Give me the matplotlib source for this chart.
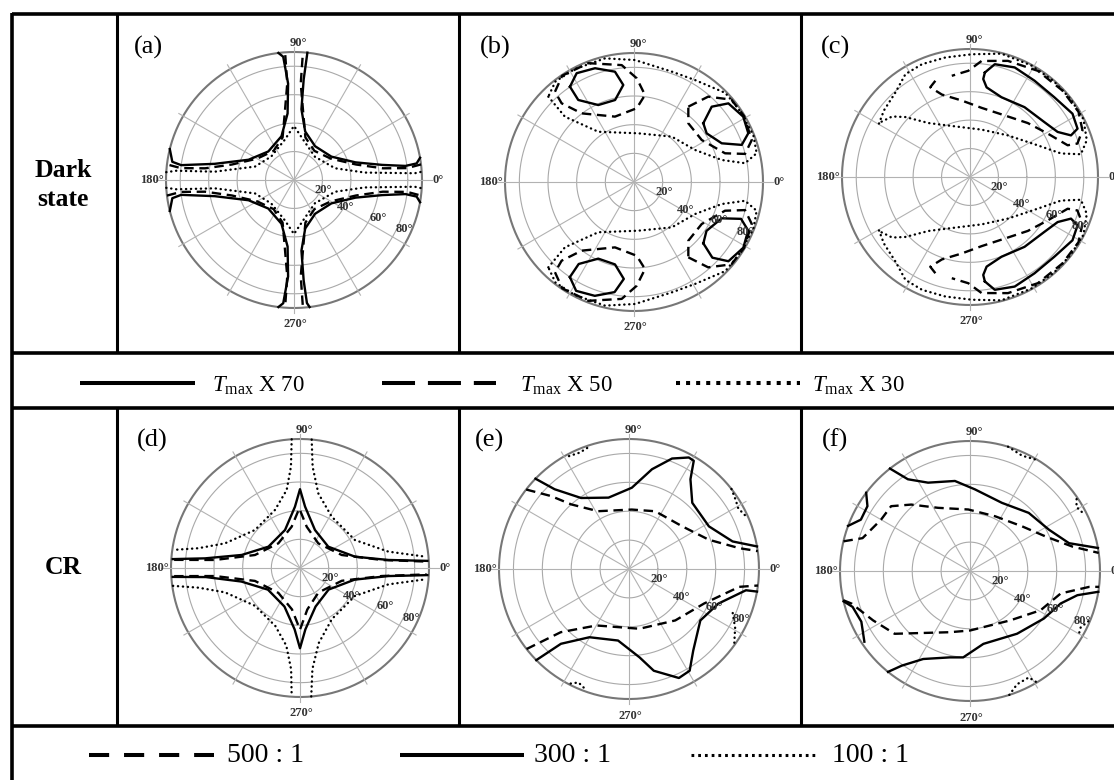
import numpy as np
import matplotlib.pyplot as plt

plt.rcParams['font.family'] = 'Liberation Serif'
plt.rcParams['mathtext.fontset'] = 'custom'
plt.rcParams['mathtext.rm'] = 'Liberation Serif'
plt.rcParams['mathtext.it'] = 'Liberation Serif:italic'

# iso-transmittance contours, each branch is a list of (azimuth deg, polar angle deg)
a_solid = [
    [(97, 90), (95, 87), (93.5, 68), (95.5, 47), (106, 32), (132, 27), (156, 35), (168.5, 57), (172.5, 80), (171.5, 86.5), (166, 90)],
    [(10, 90), (7.7, 87), (7.2, 79), (9.7, 63), (16, 45), (32, 31), (58, 28), (77, 35), (84, 50), (84.5, 71), (84, 90)],
    [(194, 90), (188.5, 86.5), (187.5, 80), (191.5, 57), (204, 35), (228, 27), (254, 32), (264.5, 47), (266.5, 68), (265, 87), (263, 90)],
    [(277, 90), (276, 87), (275.5, 71), (276, 50), (283, 35), (302, 28), (328, 31), (344, 45), (350.3, 63), (352.8, 79), (352.3, 87), (350, 90)],
]
a_dashed = [
    [(7, 90), (6, 80), (7.5, 63), (14, 45), (30, 30), (55, 25), (75, 31), (82, 47), (86, 68), (86, 88)],
    [(94, 88), (94, 68), (98, 47), (105, 31), (125, 25), (150, 30), (166, 45), (172.5, 63), (174, 80), (173, 90)],
    [(187, 90), (186, 80), (187.5, 63), (194, 45), (210, 30), (235, 25), (255, 31), (262, 47), (266, 68), (266, 88)],
    [(274, 88), (274, 68), (278, 47), (285, 31), (305, 25), (330, 30), (346, 45), (352.5, 63), (354, 80), (353, 90)],
]
a_dotted = [
    [(176.5, 90), (175.5, 83), (174, 56), (161, 29), (134, 23), (103, 29), (90, 38), (77, 29), (48, 22), (16, 30), (6, 50), (3.2, 85), (3.7, 90)],
    [(183.5, 90), (184.5, 83), (186, 56), (199, 29), (226, 23), (257, 29), (270, 38), (283, 29), (312, 22), (344, 30), (354, 50), (356.8, 85), (356.3, 90)],
]

b_solid = [
    [(123.9, 80.1), (117.8, 85.8), (108.9, 83.9), (99.8, 78.1), (96.3, 68.1), (103, 58.7), (114.9, 59.2), (124.2, 69.2), (123.9, 80.1)],
    [(40.3, 63.4), (44.1, 75.5), (39.8, 85.7), (30.9, 88.8), (23.1, 86.7), (19, 79.5), (23.8, 66.9), (33.8, 61), (40.3, 63.4)],
    [(236, 80), (242, 86), (251, 84), (260, 78), (264, 68), (257, 59), (245, 59), (236, 69), (236, 80)],
    [(318.5, 64.6), (316, 76), (320, 86), (329, 89), (337, 86.5), (341, 79), (337.5, 66.2), (326, 61), (318.5, 64.6)],
]
b_dashed = [
    [(131.2, 83.7), (124, 89.5), (111, 88.8), (96, 82), (88.5, 72.4), (82.8, 61.2), (87.9, 51.5), (106.2, 47.5), (127.3, 60.2), (132.6, 74.6), (131.2, 83.7)],
    [(54.2, 64.8), (49, 78.9), (40.2, 89), (30.9, 89.5), (19.6, 87.2), (14.2, 79.9), (17.5, 66.6), (31.8, 55.6), (47.2, 55.8), (54.2, 64.8)],
    [(228.8, 83.7), (236, 89.5), (249, 88.8), (264, 82), (271.5, 72.4), (277.2, 61.2), (272.1, 51.5), (253.8, 47.5), (232.7, 60.2), (227.4, 74.6), (228.8, 83.7)],
    [(305.8, 64.8), (311, 78.9), (319.8, 89), (329.1, 89.5), (340.4, 87.2), (345.8, 79.9), (342.5, 66.6), (328.2, 55.6), (312.8, 55.8), (305.8, 64.8)],
]
b_dotted = [
    [(135.1, 84.4), (136.6, 66.3), (125.4, 43), (85, 34.1), (50.2, 41.2), (27.7, 48.1), (14.1, 63.1), (9.6, 78.6), (13.2, 87.9),
     (21.6, 89.5), (35, 89), (44.3, 89), (59.1, 82.9), (71.1, 81.4), (89.5, 85.1), (103.2, 88.6), (117.7, 89), (128, 89), (135.1, 84.4)],
    [(224.9, 84.4), (223.4, 66.3), (234.6, 43), (275, 34.1), (309.8, 41.2), (332.3, 48.1), (345.9, 63.1), (350.4, 78.6), (346.8, 87.9),
     (338.4, 89.5), (325, 89), (315.7, 89), (300.9, 82.9), (288.9, 81.4), (270.5, 85.1), (256.8, 88.6), (242.3, 89), (232, 89), (224.9, 84.4)],
]

c_solid = [
    [(81.9, 74.2), (77.6, 81.2), (67.8, 83.2), (56.2, 81.5), (43.4, 81.6), (31.7, 84.7), (24.2, 82.9), (22.4, 76.8), (27.2, 69.3),
     (36.4, 65), (52, 62.3), (68.5, 60.3), (79.5, 64.1), (82.3, 69.5), (81.9, 74.2)],
    [(278.1, 74.2), (282.4, 81.2), (292.2, 83.2), (303.8, 81.5), (316.6, 81.6), (328.3, 84.7), (335.8, 82.9), (337.6, 76.8), (332.8, 69.3),
     (323.6, 65), (308, 62.3), (291.5, 60.3), (280.5, 64.1), (277.7, 69.5), (278.1, 74.2)],
]
c_dashed = [
    [(109.8, 71.9), (113.9, 69), (108.8, 61.2), (96.2, 54.1), (80.5, 49.3), (60.6, 49.7), (43, 55.6), (29.2, 62.6), (18, 72.2),
     (17.3, 79.1), (22.5, 85.6), (31, 89), (43, 89), (57.4, 88.6), (71.9, 85.9), (84.3, 82), (90.9, 74.7), (100.2, 72.3)],
    [(250.2, 71.9), (246.1, 69), (251.2, 61.2), (263.8, 54.1), (279.5, 49.3), (299.4, 49.7), (317, 55.6), (330.8, 62.6), (342, 72.2),
     (342.7, 79.1), (337.5, 85.6), (329, 89), (317, 89), (302.6, 88.6), (288.1, 85.9), (275.7, 82), (269.1, 74.7), (259.8, 72.3)],
]
c_dotted = [
    [(149.6, 74.2), (142.3, 76.5), (131.3, 79.3), (122.1, 85.4), (113, 86.2), (101.7, 85.8), (89.2, 86.3), (75.7, 89.5), (61.3, 89.5),
     (48.9, 89.5), (37.7, 89.5), (27, 89.5), (17.5, 86.1), (11.6, 79.6), (14.5, 66.1), (26.9, 50.9), (47.6, 39.6), (76.2, 34.3),
     (106.4, 37.1), (127.5, 47.8), (137.1, 61.9), (142.1, 69.3), (148.4, 73.7)],
    [(210.4, 74.2), (217.7, 76.5), (228.7, 79.3), (237.9, 85.4), (247, 86.2), (258.3, 85.8), (270.8, 86.3), (284.3, 89.5), (298.7, 89.5),
     (311.1, 89.5), (322.3, 89.5), (333, 89.5), (342.5, 86.1), (348.4, 79.6), (345.5, 66.1), (333.1, 50.9), (312.4, 39.6), (283.8, 34.3),
     (253.6, 37.1), (232.5, 47.8), (222.9, 61.9), (217.9, 69.3), (211.6, 73.7)],
]

d_solid = [
    [(176, 89), (174.2, 66.6), (167.4, 41.7), (146, 26.6), (111.5, 28.5), (94.7, 42.9), (90, 55), (85.3, 43), (68.5, 28.5), (37, 24.7), (11.6, 39.2), (5.2, 61.9), (3.2, 89)],
    [(184, 89), (185.5, 66), (193, 42), (214, 27), (248, 29), (265, 43), (270, 56), (275, 43), (292, 29), (323, 25), (348, 39), (354.8, 62), (356.8, 89)],
]
d_dashed = [
    [(176.3, 88), (174.6, 59.6), (163.9, 32.7), (131.3, 22.9), (101.4, 29.4), (90.7, 41.6), (80.8, 29.2), (53.4, 21.4), (17.3, 30.5), (5.6, 57.3), (2.9, 88.5)],
    [(183.7, 88), (185.4, 59.6), (196, 32.7), (229, 23), (259, 29.4), (270, 43), (280, 29.4), (307, 21.4), (343, 30.5), (354.4, 57.3), (357.1, 88.5)],
]
d_dotted = [
    [(93.7, 90), (95.1, 71), (99.7, 55.2), (113.3, 44.1), (139.8, 41.1), (161.8, 55.1), (169, 72.3), (171.9, 89.5)],
    [(84.8, 90), (82.9, 71.2), (76.2, 53.6), (58.3, 42.1), (27, 43), (10.5, 62.7), (5.2, 87.6)],
    [(188, 89.5), (191, 72), (198, 55), (220, 41), (247, 44), (260, 55), (265, 71), (266.3, 90)],
    [(275, 90), (277, 71), (284, 54), (302, 42), (333, 43), (349.5, 62.7), (354.8, 87.6)],
]

e_solid = [
    [(136, 90), (133, 75.5), (124, 59.3), (106, 51.4), (88, 56.3), (77, 70.9), (68.7, 82.1), (61.8, 87.6), (59.1, 87.3), (55.6, 75.3),
     (46.3, 63.4), (28.1, 62.7), (14.9, 74.2), (10, 90)],
    [(224.5, 90), (227.7, 70), (239.9, 54.6), (261.3, 50.1), (276.8, 61.6), (283.7, 72.5), (294.6, 83), (300.8, 82), (308.2, 71.9),
     (324.2, 60.9), (338.8, 66.3), (349.7, 82.3), (350, 90)],
]
e_dashed = [
    [(142.3, 90), (136.9, 73.9), (131.8, 60), (118.2, 45.4), (87.4, 41.2), (65.6, 43.9), (38.8, 47.2), (20.1, 58.9), (10.7, 77.7), (7.9, 90)],
    [(218, 90), (222.8, 64.4), (240.1, 45.1), (280, 42), (312, 47.9), (335.3, 57.2), (350.8, 77.3), (352.7, 90)],
]
e_dotted = [
    [(118, 88.5), (113, 87.5), (108, 89)],
    [(38, 90), (33, 88), (29, 86.5), (24, 89)],
    [(243, 89), (246, 86), (250, 88.5)],
    [(337, 78), (331, 84), (325, 89)],
]

f_solid = [
    [(128, 90), (124.1, 76.7), (115.4, 67.7), (99.5, 63.2), (86.5, 56.6), (64.9, 52.1), (44.7, 57.2), (27.6, 61.7), (15.7, 71.2), (10.2, 90)],
    [(143, 90), (147.7, 84), (154.8, 83.5), (159.7, 90)],
    [(193.5, 90), (197, 85), (205, 83), (213.8, 88)],
    [(230.9, 90), (234.2, 80.8), (242, 69), (256.9, 61.4), (265.5, 60), (280.4, 51.3), (306.9, 54.3), (327.2, 60.8), (340.3, 66.7),
     (347.3, 76.2), (350.8, 90)],
]
f_dashed = [
    [(166.8, 90), (163, 77.8), (150, 71.1), (140.6, 70.7), (131.5, 61.4), (116.8, 49), (91.6, 42.6), (65.3, 41.7), (40.6, 47.5),
     (24.6, 57.5), (13.4, 72.9), (8, 90)],
    [(193, 90), (195.4, 85), (207, 75.3), (219.8, 67.9), (251.8, 44.6), (270, 41.2), (309.2, 44.1), (330.9, 55.9), (346.1, 64.7),
     (352.4, 83.2), (353, 90)],
]
f_dotted = [
    [(73, 90), (65.7, 87.6), (58.4, 90)],
    [(34, 89), (31, 86), (27, 88)],
    [(287.6, 90), (292.6, 84.9), (298.9, 84.2), (301, 90)],
    [(337, 89), (333, 86), (329, 87.5)],
]

panel_tags = ['(a)', '(b)', '(c)', '(d)', '(e)', '(f)']
row_titles = ['Dark\nstate', 'CR']
ring_values = [20, 40, 60, 80]
top_legend = [r'$T_{\mathrm{max}}$ X 70', r'$T_{\mathrm{max}}$ X 50', r'$T_{\mathrm{max}}$ X 30']
bottom_legend = ['500 : 1', '300 : 1', '100 : 1']

W, H = 1114, 780
fig = plt.figure(figsize=(W / 100, H / 100), dpi=100)
frame = fig.add_axes([0, 0, 1, 1])
frame.set_xlim(0, W)
frame.set_ylim(H, 0)
frame.axis('off')

# table grid
LW = 2.6
for y in [14, 353, 408, 726]:
    frame.plot([12, W], [y, y], color='k', lw=LW, solid_capstyle='butt')
frame.plot([12, 12], [12.5, H], color='k', lw=LW, solid_capstyle='butt')
for x in [117, 459, 801]:
    for y0, y1 in [(14, 353), (408, 726)]:
        frame.plot([x, x], [y0, y1], color='k', lw=2.2, solid_capstyle='butt')

frame.text(63, 185, row_titles[0], ha='center', va='center', fontsize=18.5,
           fontweight='bold', linespacing=1.3)
frame.text(63, 568, row_titles[1], ha='center', va='center', fontsize=18.5,
           fontweight='bold')

SOLID = '-'
DASHED = (0, (4, 2.4))
DOTTED = (0, (0.1, 2.0))


def polar_panel(cx, cy, R, tag, tag_xy, groups):
    rtop = 98
    ext = R * rtop / 90.0
    ax = fig.add_axes([(cx - ext) / W, 1 - (cy + ext) / H, 2 * ext / W, 2 * ext / H],
                      projection='polar')
    ax.set_ylim(0, rtop)
    ax.axis('off')
    full = np.linspace(0, 2 * np.pi, 400)
    for r in ring_values:
        ax.plot(full, np.full_like(full, r), color='#a9a9a9', lw=0.8)
    ax.plot(full, np.full_like(full, 90), color='#777777', lw=1.5)
    for phi in range(0, 360, 30):
        reach = 97 if phi in (0, 180) else 93.5
        ax.plot([np.deg2rad(phi)] * 2, [0, reach], color='#b2b2b2', lw=0.8)

    lab = dict(fontsize=9, fontweight='bold', color='#333333')
    ax.text(np.deg2rad(88), 96.5, '90°', ha='center', va='center', **lab)
    ax.text(np.deg2rad(270.5), 101.5, '270°', ha='center', va='center', **lab)
    ax.text(np.pi, 91.5, '180°', ha='right', va='center', **lab)
    ax.text(0, 97.5, '0°', ha='left', va='center', **lab)
    for val, (phi, r) in zip(ring_values, [(-19, 22), (-28, 41), (-24, 65), (-24, 85)]):
        ax.text(np.deg2rad(phi), r, f'{val}°', ha='center', va='center', **lab)

    for branches, ls in groups:
        for br in branches:
            pts = np.array(br, dtype=float)
            ax.plot(np.deg2rad(pts[:, 0]), pts[:, 1], color='k', lw=1.7, ls=ls,
                    dash_capstyle='round' if ls is DOTTED else 'butt',
                    solid_joinstyle='round')
    frame.text(tag_xy[0], tag_xy[1], tag, ha='center', va='center', fontsize=19)
    return ax


polar_panel(294, 180, 128, panel_tags[0], (148, 47),
            [(a_solid, SOLID), (a_dashed, DASHED), (a_dotted, DOTTED)])
polar_panel(634, 182, 129, panel_tags[1], (495, 47),
            [(b_solid, SOLID), (b_dashed, DASHED), (b_dotted, DOTTED)])
polar_panel(970, 177, 128, panel_tags[2], (835, 47),
            [(c_solid, SOLID), (c_dashed, DASHED), (c_dotted, DOTTED)])
polar_panel(300, 568, 129, panel_tags[3], (152, 440),
            [(d_solid, SOLID), (d_dashed, DASHED), (d_dotted, DOTTED)])
polar_panel(629, 569, 130, panel_tags[4], (490, 440),
            [(e_solid, SOLID), (e_dashed, DASHED), (e_dotted, DOTTED)])
polar_panel(970, 571, 130, panel_tags[5], (835, 440),
            [(f_solid, SOLID), (f_dashed, DASHED), (f_dotted, DOTTED)])

# legend rows
lg = dict(color='k', lw=2.9, solid_capstyle='butt')
frame.plot([80, 195], [383, 383], ls='-', **lg)
frame.plot([382, 496], [383, 383], ls=(0, (8.2, 3.2)), **lg)
frame.plot([676, 800], [383, 383], ls=(0, (1.0, 1.5)), **lg)
for x, s in zip([212, 520, 812], top_legend):
    frame.text(x, 386, s, ha='left', va='center', fontsize=16.5)

frame.plot([89, 214], [755, 755], ls=(0, (5.0, 3.7)), **lg)
frame.plot([400, 524], [755, 755], ls='-', **lg)
frame.plot([691, 815], [755, 755], color='k', lw=2.2, ls=(0, (0.9, 1.3)), solid_capstyle='butt')
for x, s in zip([227, 534, 832], bottom_legend):
    frame.text(x, 756, s, ha='left', va='center', fontsize=20)

fig.savefig('out.png', dpi=100)
